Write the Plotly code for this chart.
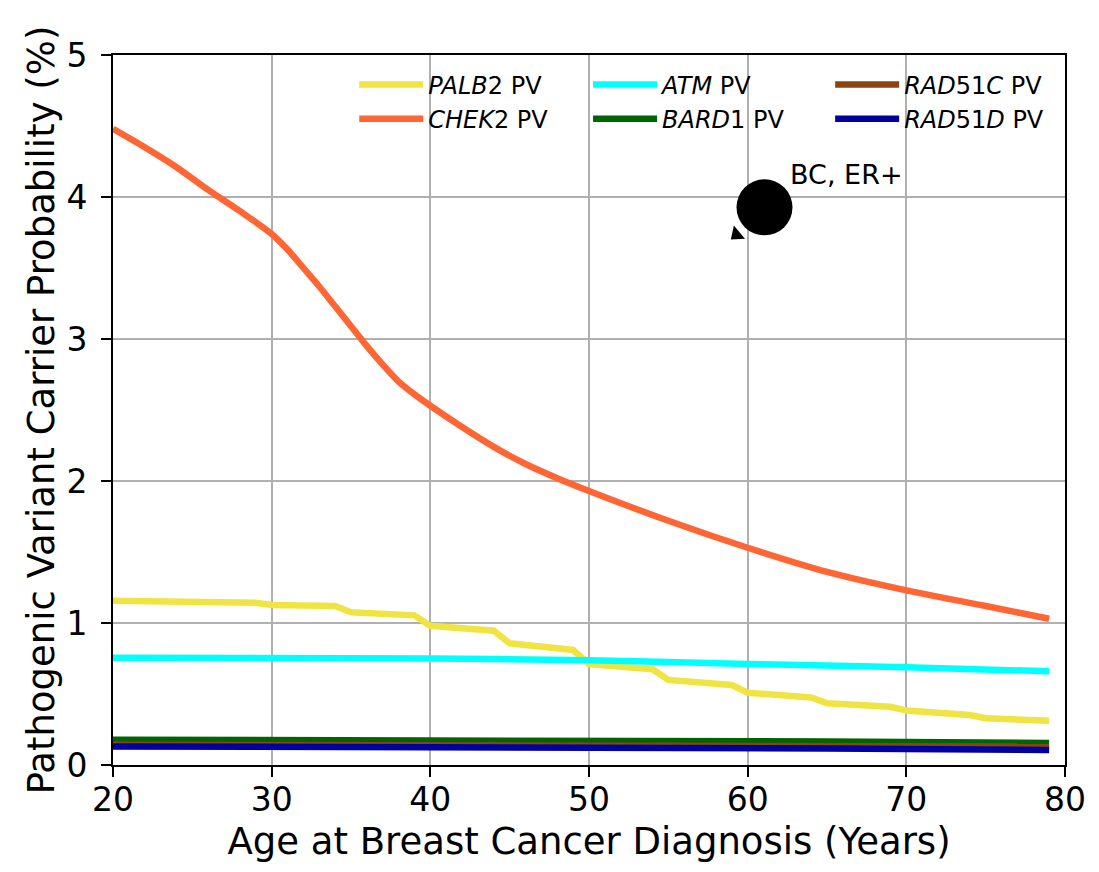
import plotly.graph_objects as go

# ---------------- data ----------------
palb2_age = [20, 24, 25, 29, 30, 34, 35, 39, 40, 44, 45, 49, 50, 54, 55, 59, 60, 64, 65, 69, 70, 74, 75, 79]
palb2_val = [1.157, 1.155, 1.148, 1.143, 1.127, 1.120, 1.075, 1.054, 0.980, 0.946, 0.857, 0.810,
             0.711, 0.674, 0.599, 0.563, 0.509, 0.475, 0.434, 0.410, 0.383, 0.352, 0.329, 0.312]

chek2_age = [20, 22, 24, 26, 28, 30, 31, 32, 33, 34, 35, 36, 37, 38, 39, 40, 42, 44, 46, 48,
             50, 55, 60, 65, 70, 75, 79]
chek2_val = [4.48, 4.35, 4.21, 4.05, 3.90, 3.74, 3.63, 3.50, 3.37, 3.23, 3.09, 2.95, 2.82, 2.70,
             2.61, 2.53, 2.38, 2.24, 2.12, 2.02, 1.93, 1.72, 1.53, 1.36, 1.23, 1.12, 1.03]

atm_age = [20, 40, 50, 60, 70, 79]
atm_val = [0.755, 0.750, 0.738, 0.712, 0.688, 0.660]

bard1_age = [20, 50, 65, 79]
bard1_val = [0.178, 0.174, 0.166, 0.155]

rad51c_age = [20, 50, 65, 79]
rad51c_val = [0.143, 0.140, 0.135, 0.130]

rad51d_age = [20, 50, 65, 79]
rad51d_val = [0.131, 0.127, 0.117, 0.106]

# annotation marker (circle + arrow head) and label
note_circle = [61.06, 3.927]
note_head = [59.3, 3.735]
note_label_pos = [62.55, 4.16]
note_label = "BC, ER+"

x_ticks = [20, 30, 40, 50, 60, 70, 80]
y_ticks = [0, 1, 2, 3, 4, 5]

FONT = "DejaVu Sans"
LW = 6.5

series = [
    # name, x, y, color, legend id, rank, smooth
    ("<i>PALB</i>2 PV", palb2_age, palb2_val, "#f0e442", "legend", 1, False),
    ("<i>CHEK</i>2 PV", chek2_age, chek2_val, "#ff6633", "legend", 2, True),
    ("<i>ATM</i> PV", atm_age, atm_val, "#00ffff", "legend2", 1, True),
    ("<i>BARD</i>1 PV", bard1_age, bard1_val, "#006400", "legend2", 2, False),
    ("<i>RAD</i>51<i>C</i> PV", rad51c_age, rad51c_val, "#8b4513", "legend3", 1, False),
    ("<i>RAD</i>51<i>D</i> PV", rad51d_age, rad51d_val, "#0000a0", "legend3", 2, False),
]

fig = go.Figure()
for name, xs, ys, col, leg, rank, smooth in series:
    line = dict(color=col, width=LW)
    if smooth:
        line.update(shape="spline", smoothing=0.8)
    fig.add_trace(go.Scatter(
        x=xs, y=ys, mode="lines", name=name, line=line,
        legend=leg, legendrank=rank, showlegend=True,
    ))

# annotation marks
fig.add_trace(go.Scatter(
    x=[note_head[0]], y=[note_head[1]], mode="markers", showlegend=False,
    marker=dict(symbol="triangle-left", size=15, color="black", angle=-40),
    hoverinfo="skip"))
fig.add_trace(go.Scatter(
    x=[note_circle[0]], y=[note_circle[1]], mode="markers", showlegend=False,
    marker=dict(symbol="circle", size=56, color="black"),
    hoverinfo="skip"))

fig.add_annotation(x=note_label_pos[0], y=note_label_pos[1], text=note_label,
                   showarrow=False, xanchor="left", yanchor="middle",
                   font=dict(family=FONT, size=27, color="black"))

axis_common = dict(
    showline=True, linecolor="black", linewidth=2, mirror=True,
    ticks="outside", ticklen=10, tickwidth=2, tickcolor="black",
    showgrid=True, gridcolor="#b0b0b0", gridwidth=2,
    zeroline=False,
    tickfont=dict(family=FONT, size=33, color="black"),
)

fig.update_xaxes(range=[20, 80], tickvals=x_ticks, ticktext=[str(v) for v in x_ticks],
                 ticklabelstandoff=-6,
                 title=dict(text="Age at Breast Cancer Diagnosis (Years)",
                            font=dict(family=FONT, size=37, color="black"), standoff=11),
                 **axis_common)
fig.update_yaxes(range=[0, 5], tickvals=y_ticks, ticktext=[str(v) for v in y_ticks],
                 ticklabelstandoff=7,
                 title=dict(text="Pathogenic Variant Carrier Probability (%)",
                            font=dict(family=FONT, size=37, color="black"), standoff=0),
                 **axis_common)

leg_common = dict(
    bgcolor="rgba(0,0,0,0)", borderwidth=0, orientation="v",
    yanchor="middle", y=0.934, xanchor="left",
    font=dict(family=FONT, size=24, color="black"),
    itemwidth=64, tracegroupgap=0,
)
# page body has an 8px margin, so the figure is drawn 8px smaller with margins reduced
fig.update_layout(
    width=1091, height=864,
    margin=dict(l=105, r=34, t=47, b=107),
    paper_bgcolor="white", plot_bgcolor="white",
    font=dict(family=FONT, color="black"),
    legend=dict(x=0.2534, **leg_common),
    legend2=dict(x=0.499, **leg_common),
    legend3=dict(x=0.7533, **leg_common),
    showlegend=True,
)

fig.write_html("out.html")
